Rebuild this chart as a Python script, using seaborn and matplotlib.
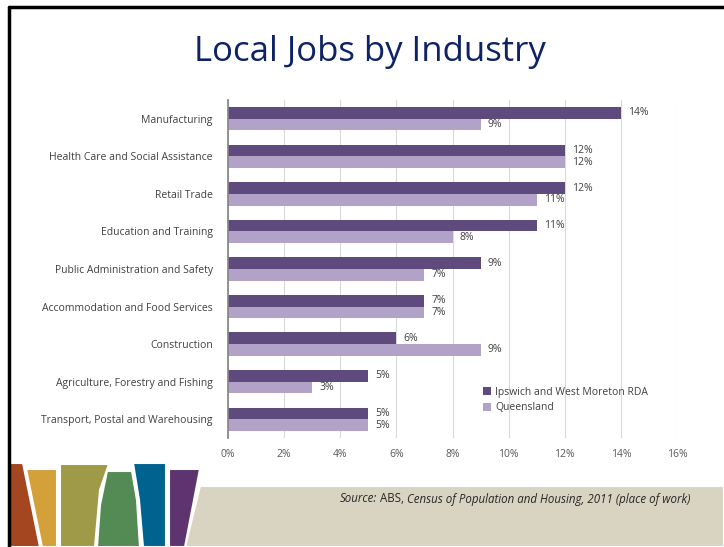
import matplotlib
matplotlib.use('Agg')
import matplotlib.pyplot as plt
from matplotlib.patches import Polygon
import seaborn as sns
import pandas as pd
import numpy as np

industries = ["Manufacturing", "Health Care and Social Assistance", "Retail Trade",
              "Education and Training", "Public Administration and Safety",
              "Accommodation and Food Services", "Construction",
              "Agriculture, Forestry and Fishing", "Transport, Postal and Warehousing"]
ipswich = [14, 12, 12, 11, 9, 7, 6, 5, 5]
queensland = [9, 12, 11, 8, 7, 7, 9, 3, 5]
series = ["Ipswich and West Moreton RDA", "Queensland"]
xticks = [0, 2, 4, 6, 8, 10, 12, 14, 16]

sns.set_theme(style="white")
plt.rcParams['font.family'] = ['Open Sans', 'DejaVu Sans']

df = pd.DataFrame({
    "industry": industries * 2,
    "value": ipswich + queensland,
    "series": [series[0]] * len(industries) + [series[1]] * len(industries),
})

fig = plt.figure(figsize=(7.24, 5.47), dpi=100)
fig.patch.set_facecolor("white")
ax = fig.add_axes([228 / 724, 1 - 438 / 547, 449 / 724, 338 / 547])

pal = {series[0]: "#5E4A7D", series[1]: "#B3A2C8"}
sns.barplot(data=df, y="industry", x="value", hue="series", orient="h", palette=pal,
            width=0.62, saturation=1, ax=ax, linewidth=0)

for c in ax.containers:
    ax.bar_label(c, labels=[f"{v:g}%" for v in c.datavalues], padding=5,
                 fontsize=7.5, color="#404040")

ax.set_xlim(0, 16)
ax.set_ylim(8.5, -0.5)
ax.set_xticks(xticks)
ax.set_xticklabels([f"{t}%" for t in xticks], fontsize=7.5, color="#595959")
ax.tick_params(axis="x", length=0, pad=8)
ax.tick_params(axis="y", length=0, labelsize=7.5, labelcolor="#404040", pad=11)
ax.set_yticks(np.arange(-0.5, 9, 1), minor=True)
ax.tick_params(axis="y", which="minor", length=4, color="#868686", width=0.8)
ax.grid(axis="x", color="#D9D9D9", lw=0.8)
ax.set_axisbelow(True)
for s in ["top", "right", "bottom"]:
    ax.spines[s].set_visible(False)
ax.spines["left"].set_color("#868686")
ax.set_xlabel("")
ax.set_ylabel("")

leg = ax.legend(loc="lower right", bbox_to_anchor=(0.957, 0.045), frameon=False,
                fontsize=7.5, handlelength=0.75, handleheight=0.75, handletextpad=0.4,
                labelspacing=0.45)
for t in leg.get_texts():
    t.set_color("#404040")

fig.text(370 / 724, 1 - 52 / 547, "Local Jobs by Industry", ha="center", va="center",
         fontsize=25, color="#0D2366", family=['Open Sans', 'DejaVu Sans'])

# slide decoration
W, H = 724, 547
def poly(pts, color):
    fig.patches.append(Polygon([(x / W, 1 - y / H) for x, y in pts], closed=True,
                               transform=fig.transFigure, facecolor=color,
                               edgecolor="white", lw=1.5, zorder=1))

poly([(200, 486), (724, 486), (724, 547), (185, 547)], "#D9D3C1")
poly([(9, 463), (23, 463), (40, 547), (9, 547)], "#A4461F")
poly([(26, 469), (57, 469), (57, 547), (42, 547)], "#D4A03A")
poly([(60, 464), (109, 464), (100, 490), (95, 547), (60, 547)], "#9E9A48")
poly([(107, 471), (132, 471), (137, 500), (140, 547), (97, 547), (100, 505)], "#548B54")
poly([(133, 463), (166, 463), (166, 547), (143, 547), (139, 500)], "#00628F")
poly([(169, 469), (200, 469), (185, 547), (169, 547)], "#5E3470")

# source line, pieces placed one after another
renderer = fig.canvas.get_renderer()
x0 = 340 / W
for txt, st in [("Source:", "italic"), (" ABS, ", "normal"),
                ("Census of Population and Housing, 2011 (place of work)", "italic")]:
    t = fig.text(x0, 1 - 499 / H, txt, ha="left", va="center", fontsize=8.3,
                 style=st, color="#262626")
    bb = t.get_window_extent(renderer=renderer)
    x0 += bb.width / fig.bbox.width

# slide border
fig.add_artist(plt.Line2D([9 / W, 9 / W], [0, 1 - 7 / H], color="black", lw=2.5,
                          transform=fig.transFigure))
fig.add_artist(plt.Line2D([9 / W, 1], [1 - 7 / H, 1 - 7 / H], color="black", lw=2.5,
                          transform=fig.transFigure))

plt.savefig("out.png", dpi=100)
plt.close("all")
